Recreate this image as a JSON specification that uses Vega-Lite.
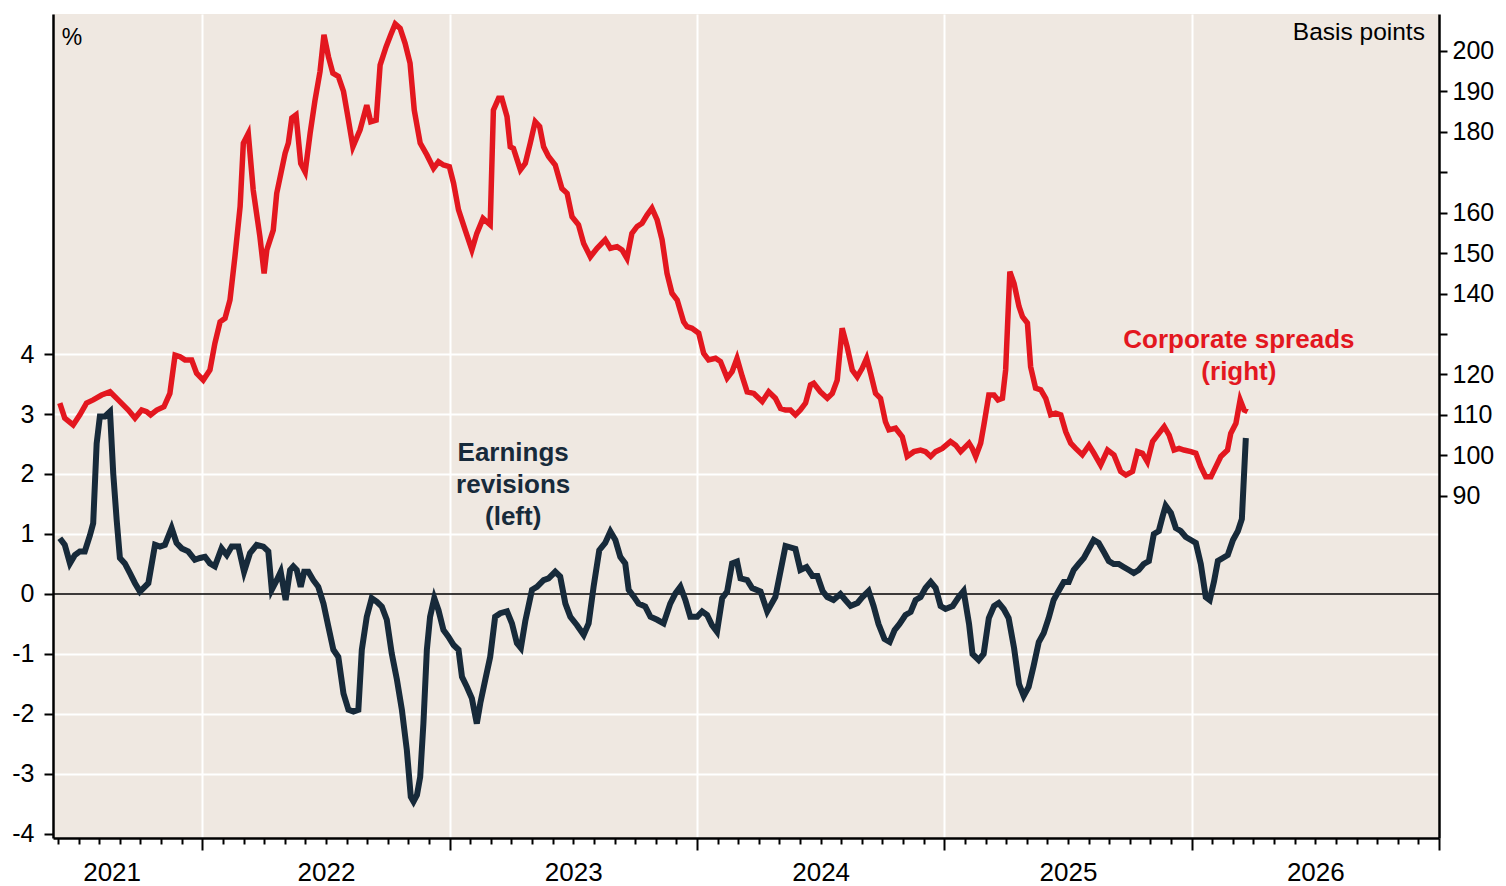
{
  "$schema": "https://vega.github.io/schema/vega-lite/v6.json",
  "width": 1386,
  "height": 824,
  "autosize": {"type": "none"},
  "padding": {"left": 53, "top": 14, "right": 67, "bottom": 48},
  "background": "white",
  "config": {
    "view": {"fill": "#EFE8E1", "stroke": null},
    "font": "Liberation Sans",
    "axis": {"labelFont": "Liberation Sans", "labelColor": "black", "domainColor": "black", "tickColor": "black", "title": null}
  },
  "datasets": {
    "revisions": [
      {"t":2021.424,"v":0.93},{"t":2021.444,"v":0.82},{"t":2021.465,"v":0.51},{"t":2021.485,"v":0.65},{"t":2021.505,"v":0.71},{"t":2021.525,"v":0.71},{"t":2021.546,"v":0.98},{"t":2021.559,"v":1.18},{"t":2021.573,"v":2.51},{"t":2021.586,"v":2.96},{"t":2021.606,"v":2.96},{"t":2021.627,"v":3.04},{"t":2021.640,"v":2.01},{"t":2021.654,"v":1.23},{"t":2021.667,"v":0.6},{"t":2021.687,"v":0.51},{"t":2021.707,"v":0.35},{"t":2021.728,"v":0.18},{"t":2021.748,"v":0.04},{"t":2021.782,"v":0.18},{"t":2021.809,"v":0.82},{"t":2021.829,"v":0.79},{"t":2021.849,"v":0.82},{"t":2021.876,"v":1.1},{"t":2021.896,"v":0.85},{"t":2021.917,"v":0.76},{"t":2021.943,"v":0.71},{"t":2021.970,"v":0.57},{"t":2021.991,"v":0.6},{"t":2022.011,"v":0.62},{"t":2022.031,"v":0.51},{"t":2022.051,"v":0.46},{"t":2022.078,"v":0.76},{"t":2022.099,"v":0.65},{"t":2022.119,"v":0.79},{"t":2022.146,"v":0.79},{"t":2022.169,"v":0.37},{"t":2022.193,"v":0.68},{"t":2022.220,"v":0.82},{"t":2022.247,"v":0.79},{"t":2022.267,"v":0.71},{"t":2022.281,"v":0.07},{"t":2022.301,"v":0.23},{"t":2022.317,"v":0.37},{"t":2022.337,"v":-0.1},{"t":2022.355,"v":0.4},{"t":2022.368,"v":0.46},{"t":2022.382,"v":0.4},{"t":2022.398,"v":0.12},{"t":2022.412,"v":0.37},{"t":2022.429,"v":0.37},{"t":2022.449,"v":0.23},{"t":2022.469,"v":0.12},{"t":2022.490,"v":-0.16},{"t":2022.510,"v":-0.55},{"t":2022.530,"v":-0.93},{"t":2022.550,"v":-1.05},{"t":2022.571,"v":-1.66},{"t":2022.591,"v":-1.93},{"t":2022.611,"v":-1.96},{"t":2022.631,"v":-1.93},{"t":2022.645,"v":-0.93},{"t":2022.665,"v":-0.38},{"t":2022.685,"v":-0.07},{"t":2022.706,"v":-0.13},{"t":2022.726,"v":-0.21},{"t":2022.746,"v":-0.43},{"t":2022.766,"v":-0.99},{"t":2022.787,"v":-1.43},{"t":2022.807,"v":-1.93},{"t":2022.827,"v":-2.6},{"t":2022.843,"v":-3.38},{"t":2022.854,"v":-3.46},{"t":2022.868,"v":-3.35},{"t":2022.881,"v":-3.05},{"t":2022.894,"v":-2.16},{"t":2022.908,"v":-0.93},{"t":2022.921,"v":-0.38},{"t":2022.938,"v":-0.07},{"t":2022.955,"v":-0.27},{"t":2022.975,"v":-0.6},{"t":2022.995,"v":-0.71},{"t":2023.016,"v":-0.85},{"t":2023.036,"v":-0.93},{"t":2023.050,"v":-1.38},{"t":2023.070,"v":-1.55},{"t":2023.090,"v":-1.74},{"t":2023.110,"v":-2.16},{"t":2023.124,"v":-1.82},{"t":2023.144,"v":-1.43},{"t":2023.164,"v":-1.05},{"t":2023.184,"v":-0.38},{"t":2023.205,"v":-0.32},{"t":2023.232,"v":-0.29},{"t":2023.252,"v":-0.49},{"t":2023.272,"v":-0.82},{"t":2023.288,"v":-0.9},{"t":2023.306,"v":-0.45},{"t":2023.333,"v":0.07},{"t":2023.353,"v":0.12},{"t":2023.380,"v":0.23},{"t":2023.400,"v":0.26},{"t":2023.427,"v":0.37},{"t":2023.447,"v":0.29},{"t":2023.468,"v":-0.16},{"t":2023.488,"v":-0.38},{"t":2023.515,"v":-0.52},{"t":2023.542,"v":-0.68},{"t":2023.562,"v":-0.49},{"t":2023.582,"v":0.12},{"t":2023.605,"v":0.73},{"t":2023.629,"v":0.85},{"t":2023.650,"v":1.04},{"t":2023.670,"v":0.9},{"t":2023.690,"v":0.62},{"t":2023.710,"v":0.51},{"t":2023.724,"v":0.07},{"t":2023.744,"v":-0.04},{"t":2023.764,"v":-0.16},{"t":2023.791,"v":-0.21},{"t":2023.812,"v":-0.38},{"t":2023.839,"v":-0.43},{"t":2023.865,"v":-0.49},{"t":2023.892,"v":-0.16},{"t":2023.913,"v":0.01},{"t":2023.933,"v":0.12},{"t":2023.953,"v":-0.1},{"t":2023.973,"v":-0.38},{"t":2024.001,"v":-0.38},{"t":2024.021,"v":-0.29},{"t":2024.041,"v":-0.35},{"t":2024.061,"v":-0.52},{"t":2024.081,"v":-0.63},{"t":2024.102,"v":-0.07},{"t":2024.122,"v":0.04},{"t":2024.142,"v":0.51},{"t":2024.162,"v":0.54},{"t":2024.176,"v":0.26},{"t":2024.203,"v":0.23},{"t":2024.223,"v":0.1},{"t":2024.257,"v":0.04},{"t":2024.284,"v":-0.29},{"t":2024.317,"v":-0.05},{"t":2024.358,"v":0.8},{"t":2024.398,"v":0.75},{"t":2024.418,"v":0.4},{"t":2024.443,"v":0.45},{"t":2024.467,"v":0.3},{"t":2024.487,"v":0.3},{"t":2024.508,"v":0.05},{"t":2024.527,"v":-0.05},{"t":2024.552,"v":-0.1},{"t":2024.580,"v":0.0},{"t":2024.600,"v":-0.1},{"t":2024.621,"v":-0.2},{"t":2024.649,"v":-0.15},{"t":2024.669,"v":-0.05},{"t":2024.694,"v":0.05},{"t":2024.714,"v":-0.2},{"t":2024.734,"v":-0.5},{"t":2024.758,"v":-0.75},{"t":2024.779,"v":-0.8},{"t":2024.799,"v":-0.6},{"t":2024.819,"v":-0.5},{"t":2024.843,"v":-0.35},{"t":2024.864,"v":-0.3},{"t":2024.884,"v":-0.1},{"t":2024.904,"v":-0.05},{"t":2024.924,"v":0.1},{"t":2024.945,"v":0.2},{"t":2024.965,"v":0.1},{"t":2024.985,"v":-0.2},{"t":2025.005,"v":-0.25},{"t":2025.034,"v":-0.2},{"t":2025.058,"v":-0.05},{"t":2025.078,"v":0.05},{"t":2025.100,"v":-0.5},{"t":2025.114,"v":-1.0},{"t":2025.139,"v":-1.1},{"t":2025.159,"v":-1.0},{"t":2025.180,"v":-0.4},{"t":2025.201,"v":-0.2},{"t":2025.220,"v":-0.15},{"t":2025.240,"v":-0.25},{"t":2025.260,"v":-0.4},{"t":2025.282,"v":-0.9},{"t":2025.302,"v":-1.5},{"t":2025.321,"v":-1.7},{"t":2025.341,"v":-1.55},{"t":2025.361,"v":-1.2},{"t":2025.382,"v":-0.8},{"t":2025.402,"v":-0.65},{"t":2025.422,"v":-0.4},{"t":2025.442,"v":-0.1},{"t":2025.462,"v":0.05},{"t":2025.483,"v":0.2},{"t":2025.503,"v":0.2},{"t":2025.523,"v":0.4},{"t":2025.543,"v":0.5},{"t":2025.564,"v":0.6},{"t":2025.584,"v":0.75},{"t":2025.604,"v":0.9},{"t":2025.624,"v":0.85},{"t":2025.645,"v":0.7},{"t":2025.665,"v":0.55},{"t":2025.685,"v":0.5},{"t":2025.705,"v":0.5},{"t":2025.725,"v":0.45},{"t":2025.746,"v":0.4},{"t":2025.766,"v":0.35},{"t":2025.786,"v":0.4},{"t":2025.806,"v":0.5},{"t":2025.827,"v":0.55},{"t":2025.847,"v":1.0},{"t":2025.867,"v":1.05},{"t":2025.883,"v":1.3},{"t":2025.895,"v":1.47},{"t":2025.916,"v":1.35},{"t":2025.936,"v":1.1},{"t":2025.956,"v":1.05},{"t":2025.976,"v":0.95},{"t":2025.997,"v":0.9},{"t":2026.017,"v":0.85},{"t":2026.037,"v":0.5},{"t":2026.057,"v":-0.05},{"t":2026.073,"v":-0.1},{"t":2026.090,"v":0.2},{"t":2026.106,"v":0.55},{"t":2026.126,"v":0.6},{"t":2026.146,"v":0.65},{"t":2026.167,"v":0.9},{"t":2026.187,"v":1.05},{"t":2026.203,"v":1.25},{"t":2026.219,"v":2.6}
    ],
    "spreads": [
      {"t":2021.424,"v":112.9},{"t":2021.444,"v":109.2},{"t":2021.478,"v":107.5},{"t":2021.505,"v":110},{"t":2021.532,"v":112.9},{"t":2021.559,"v":113.7},{"t":2021.593,"v":114.9},{"t":2021.627,"v":115.7},{"t":2021.660,"v":113.7},{"t":2021.701,"v":111.2},{"t":2021.728,"v":109.2},{"t":2021.755,"v":111.2},{"t":2021.775,"v":110.8},{"t":2021.791,"v":110},{"t":2021.816,"v":111.2},{"t":2021.845,"v":112},{"t":2021.869,"v":115.3},{"t":2021.890,"v":124.8},{"t":2021.910,"v":124.4},{"t":2021.930,"v":123.6},{"t":2021.957,"v":123.6},{"t":2021.977,"v":120.3},{"t":2022.004,"v":118.6},{"t":2022.031,"v":121.1},{"t":2022.051,"v":127.7},{"t":2022.072,"v":133},{"t":2022.092,"v":133.9},{"t":2022.112,"v":138.4},{"t":2022.132,"v":149.1},{"t":2022.153,"v":161.5},{"t":2022.166,"v":177.2},{"t":2022.186,"v":179.6},{"t":2022.206,"v":165.6},{"t":2022.233,"v":154.1},{"t":2022.250,"v":145},{"t":2022.261,"v":150.8},{"t":2022.287,"v":155.7},{"t":2022.301,"v":164.8},{"t":2022.335,"v":174.7},{"t":2022.348,"v":177.2},{"t":2022.362,"v":183.4},{"t":2022.379,"v":184.2},{"t":2022.398,"v":172.2},{"t":2022.416,"v":170.1},{"t":2022.436,"v":179.6},{"t":2022.456,"v":187.9},{"t":2022.476,"v":194.9},{"t":2022.492,"v":204},{"t":2022.510,"v":198.6},{"t":2022.528,"v":194.5},{"t":2022.550,"v":193.7},{"t":2022.571,"v":190},{"t":2022.591,"v":182.9},{"t":2022.609,"v":176.3},{"t":2022.638,"v":180.5},{"t":2022.665,"v":186.6},{"t":2022.681,"v":182.5},{"t":2022.703,"v":182.9},{"t":2022.719,"v":196.5},{"t":2022.743,"v":201},{"t":2022.762,"v":204},{"t":2022.780,"v":206.7},{"t":2022.800,"v":205.6},{"t":2022.820,"v":201.9},{"t":2022.840,"v":197},{"t":2022.857,"v":185.4},{"t":2022.881,"v":177.2},{"t":2022.908,"v":174.3},{"t":2022.935,"v":171},{"t":2022.955,"v":172.6},{"t":2022.975,"v":171.8},{"t":2022.999,"v":171.4},{"t":2023.016,"v":167.3},{"t":2023.036,"v":160.7},{"t":2023.063,"v":155.7},{"t":2023.090,"v":150.8},{"t":2023.110,"v":154.9},{"t":2023.135,"v":158.6},{"t":2023.164,"v":157},{"t":2023.177,"v":185.4},{"t":2023.198,"v":188.3},{"t":2023.211,"v":188.3},{"t":2023.232,"v":183.8},{"t":2023.245,"v":176.3},{"t":2023.258,"v":175.9},{"t":2023.286,"v":170.6},{"t":2023.306,"v":172.2},{"t":2023.326,"v":177.2},{"t":2023.346,"v":182.5},{"t":2023.364,"v":181.3},{"t":2023.380,"v":176.3},{"t":2023.400,"v":173.9},{"t":2023.427,"v":171.8},{"t":2023.454,"v":166},{"t":2023.475,"v":164.8},{"t":2023.495,"v":159},{"t":2023.521,"v":157},{"t":2023.542,"v":152.4},{"t":2023.569,"v":149.1},{"t":2023.596,"v":151.2},{"t":2023.629,"v":153.3},{"t":2023.650,"v":151.2},{"t":2023.677,"v":151.6},{"t":2023.697,"v":150.8},{"t":2023.717,"v":148.7},{"t":2023.737,"v":154.9},{"t":2023.758,"v":156.6},{"t":2023.778,"v":157.4},{"t":2023.798,"v":159.4},{"t":2023.818,"v":161.1},{"t":2023.839,"v":158.2},{"t":2023.859,"v":153.3},{"t":2023.879,"v":145},{"t":2023.899,"v":140.1},{"t":2023.920,"v":138.4},{"t":2023.946,"v":133},{"t":2023.960,"v":131.8},{"t":2023.980,"v":131.4},{"t":2024.007,"v":130.2},{"t":2024.027,"v":125.2},{"t":2024.047,"v":123.6},{"t":2024.075,"v":124},{"t":2024.095,"v":123.2},{"t":2024.122,"v":119.1},{"t":2024.142,"v":120.7},{"t":2024.162,"v":124},{"t":2024.183,"v":119.5},{"t":2024.203,"v":115.7},{"t":2024.230,"v":115.3},{"t":2024.264,"v":113.3},{"t":2024.290,"v":115.7},{"t":2024.317,"v":114.1},{"t":2024.338,"v":111.6},{"t":2024.358,"v":111.2},{"t":2024.378,"v":111.2},{"t":2024.398,"v":110},{"t":2024.418,"v":111.2},{"t":2024.439,"v":112.9},{"t":2024.459,"v":117.4},{"t":2024.472,"v":117.8},{"t":2024.499,"v":115.7},{"t":2024.527,"v":114.1},{"t":2024.547,"v":115.3},{"t":2024.567,"v":118.6},{"t":2024.587,"v":131.4},{"t":2024.607,"v":126.9},{"t":2024.628,"v":121.1},{"t":2024.648,"v":119.4},{"t":2024.668,"v":121.5},{"t":2024.686,"v":124},{"t":2024.702,"v":120.3},{"t":2024.722,"v":115.3},{"t":2024.742,"v":114.1},{"t":2024.762,"v":108.3},{"t":2024.776,"v":106.3},{"t":2024.803,"v":106.7},{"t":2024.830,"v":104.6},{"t":2024.850,"v":99.7},{"t":2024.877,"v":100.9},{"t":2024.904,"v":101.3},{"t":2024.924,"v":100.9},{"t":2024.945,"v":99.7},{"t":2024.965,"v":100.9},{"t":2024.992,"v":101.7},{"t":2025.025,"v":103.4},{"t":2025.046,"v":102.5},{"t":2025.066,"v":100.9},{"t":2025.100,"v":103},{"t":2025.113,"v":101.7},{"t":2025.127,"v":99.7},{"t":2025.147,"v":103},{"t":2025.160,"v":107.5},{"t":2025.180,"v":114.9},{"t":2025.201,"v":114.9},{"t":2025.217,"v":113.7},{"t":2025.235,"v":114.1},{"t":2025.248,"v":121.1},{"t":2025.265,"v":145.4},{"t":2025.282,"v":142.5},{"t":2025.302,"v":136.8},{"t":2025.316,"v":134.3},{"t":2025.336,"v":132.7},{"t":2025.349,"v":121.9},{"t":2025.369,"v":116.6},{"t":2025.390,"v":116.2},{"t":2025.410,"v":114.1},{"t":2025.430,"v":110},{"t":2025.450,"v":110.4},{"t":2025.471,"v":110},{"t":2025.491,"v":105.8},{"t":2025.511,"v":103},{"t":2025.531,"v":101.7},{"t":2025.558,"v":100.1},{"t":2025.585,"v":102.5},{"t":2025.605,"v":100.5},{"t":2025.632,"v":97.6},{"t":2025.660,"v":101.3},{"t":2025.686,"v":100.1},{"t":2025.713,"v":96},{"t":2025.734,"v":95.1},{"t":2025.761,"v":96},{"t":2025.781,"v":100.9},{"t":2025.801,"v":100.5},{"t":2025.821,"v":98.4},{"t":2025.842,"v":103.4},{"t":2025.862,"v":105},{"t":2025.889,"v":107.1},{"t":2025.909,"v":105},{"t":2025.929,"v":101.3},{"t":2025.949,"v":101.7},{"t":2025.969,"v":101.3},{"t":2025.997,"v":100.9},{"t":2026.017,"v":100.5},{"t":2026.037,"v":97.2},{"t":2026.057,"v":94.7},{"t":2026.078,"v":94.7},{"t":2026.098,"v":97.2},{"t":2026.118,"v":99.7},{"t":2026.145,"v":101.3},{"t":2026.158,"v":105.4},{"t":2026.179,"v":107.9},{"t":2026.196,"v":113.7},{"t":2026.212,"v":111.2},{"t":2026.226,"v":110.8}
    ],
    "leftNotes": [
      {"t":2021.432,"v":9.27,"label":"%"}
    ],
    "leftAnnot": [
      {"t":2023.257,"v":2.35,"label":"Earnings"},
      {"t":2023.257,"v":1.817,"label":"revisions"},
      {"t":2023.257,"v":1.283,"label":"(left)"}
    ],
    "rightNotes": [
      {"t":2026.943,"v":204.45,"label":"Basis points"}
    ],
    "rightAnnot": [
      {"t":2026.191,"v":128.5,"label":"Corporate spreads"},
      {"t":2026.191,"v":120.6,"label":"(right)"}
    ]
  },
  "layer": [
    {
      "layer": [
        {
          "data": {"values": [{"v": 0}]},
          "mark": {"type": "rule", "color": "black", "strokeWidth": 1.6},
          "encoding": {"y": {"field": "v", "type": "quantitative"}}
        },
        {
          "data": {"name": "revisions"},
          "mark": {"type": "line", "color": "#172A3A", "strokeWidth": 6},
          "encoding": {
            "x": {
              "field": "t", "type": "quantitative",
              "scale": {"domain": [2021.3965, 2027], "nice": false, "zero": false},
              "axis": {
                "values": [2021.4167,2021.5,2021.5833,2021.6667,2021.75,2021.8333,2021.9167,
                  2022,2022.0833,2022.1667,2022.25,2022.3333,2022.4167,2022.5,2022.5833,2022.6667,2022.75,2022.8333,2022.9167,
                  2023,2023.0833,2023.1667,2023.25,2023.3333,2023.4167,2023.5,2023.5833,2023.6667,2023.75,2023.8333,2023.9167,
                  2024,2024.0833,2024.1667,2024.25,2024.3333,2024.4167,2024.5,2024.5833,2024.6667,2024.75,2024.8333,2024.9167,
                  2025,2025.0833,2025.1667,2025.25,2025.3333,2025.4167,2025.5,2025.5833,2025.6667,2025.75,2025.8333,2025.9167,
                  2026,2026.0833,2026.1667,2026.25,2026.3333,2026.4167,2026.5,2026.5833,2026.6667,2026.75,2026.8333,2026.9167,2027],
                "tickCount": 200,
                "tickSize": {"condition": {"test": "abs(datum.value - round(datum.value)) < 0.001", "value": 12}, "value": 6},
                "tickWidth": 2,
                "domainWidth": 2.5,
                "grid": true,
                "gridColor": "white",
                "gridWidth": 2,
                "gridOpacity": {"condition": {"test": "abs(datum.value - round(datum.value)) < 0.001 && datum.value < 2026.9", "value": 1}, "value": 0},
                "labelExpr": "abs(datum.value - floor(datum.value) - 0.5) < 0.001 ? toString(floor(datum.value)) : ''",
                "labelOffset": {"condition": {"test": "datum.value < 2022", "value": 33}, "value": 0},
                "labelFontSize": 26,
                "labelPadding": 15,
                "labelOverlap": false,
                "labelFlush": false,
                "labelBound": false,
                "title": null
              }
            },
            "y": {
              "field": "v", "type": "quantitative",
              "scale": {"domain": [-4.067, 9.667], "nice": false, "zero": false},
              "axis": {
                "orient": "left",
                "values": [-4,-3,-2,-1,0,1,2,3,4],
                "labelExpr": "toString(datum.value)",
                "tickSize": 9,
                "tickWidth": 2,
                "domainWidth": 2.5,
                "labelFontSize": 25,
                "labelPadding": 10,
                "grid": true,
                "gridColor": "white",
                "gridWidth": 2,
                "gridOpacity": {"condition": {"test": "datum.value == 0 || datum.value == -4", "value": 0}, "value": 1},
                "labelOverlap": false,
                "labelFlush": false,
                "title": null
              }
            }
          }
        },
        {
          "data": {"name": "leftAnnot"},
          "mark": {"type": "text", "color": "#172A3A", "fontSize": 26, "fontWeight": "bold", "align": "center", "baseline": "middle"},
          "encoding": {
            "x": {"field": "t", "type": "quantitative"},
            "y": {"field": "v", "type": "quantitative"},
            "text": {"field": "label"}
          }
        },
        {
          "data": {"name": "leftNotes"},
          "mark": {"type": "text", "color": "black", "fontSize": 23, "align": "left", "baseline": "middle"},
          "encoding": {
            "x": {"field": "t", "type": "quantitative"},
            "y": {"field": "v", "type": "quantitative"},
            "text": {"field": "label"}
          }
        }
      ]
    },
    {
      "layer": [
        {
          "data": {"name": "spreads"},
          "mark": {"type": "line", "color": "#E3171F", "strokeWidth": 5.5},
          "encoding": {
            "x": {"field": "t", "type": "quantitative"},
            "y": {
              "field": "v", "type": "quantitative",
              "scale": {"domain": [5.34, 209.15], "nice": false, "zero": false},
              "axis": {
                "orient": "right",
                "values": [90,100,110,120,130,140,150,160,170,180,190,200],
                "labelExpr": "datum.value == 130 || datum.value == 170 ? '' : datum.label",
                "tickSize": 8,
                "tickWidth": 2,
                "domainWidth": 2.5,
                "labelFontSize": 25,
                "labelPadding": 5,
                "grid": false,
                "labelOverlap": false,
                "labelFlush": false,
                "title": null
              }
            }
          }
        },
        {
          "data": {"name": "rightAnnot"},
          "mark": {"type": "text", "color": "#E3171F", "fontSize": 26, "fontWeight": "bold", "align": "center", "baseline": "middle"},
          "encoding": {
            "x": {"field": "t", "type": "quantitative"},
            "y": {"field": "v", "type": "quantitative"},
            "text": {"field": "label"}
          }
        },
        {
          "data": {"name": "rightNotes"},
          "mark": {"type": "text", "color": "black", "fontSize": 24.5, "align": "right", "baseline": "middle"},
          "encoding": {
            "x": {"field": "t", "type": "quantitative"},
            "y": {"field": "v", "type": "quantitative"},
            "text": {"field": "label"}
          }
        }
      ]
    }
  ],
  "resolve": {"scale": {"y": "independent"}}
}
